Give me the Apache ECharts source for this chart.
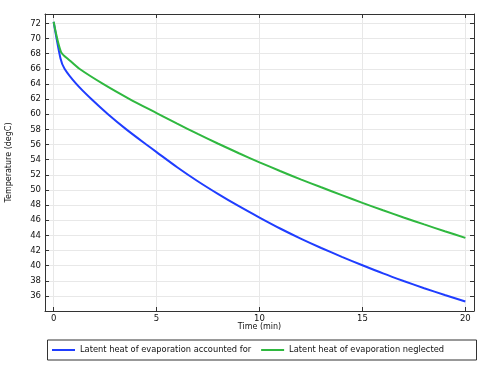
<!DOCTYPE html>
<html><head><meta charset="utf-8">
<script src="https://cdn.jsdelivr.net/npm/echarts@6/dist/echarts.min.js"></script>
<style>html,body{margin:0;padding:0;background:#fff}#c{width:481px;height:368px}</style>
</head><body><div id="c"></div>
<script>
var timeBlue = [0, 0.33, 0.53, 1.1, 1.83, 2.64, 3.53, 4.5, 5, 6, 7, 8, 9, 10, 11, 12, 13, 14, 15, 16, 17, 18, 19, 20];
var tempBlue = [72.2, 67.4, 66.0, 64.0, 62.0, 60.0, 58.0, 56.0, 55.0, 53.0, 51.15, 49.45, 47.85, 46.35, 44.91, 43.58, 42.34, 41.17, 40.06, 38.98, 37.98, 37.03, 36.13, 35.28];
var timeGreen = [0, 0.36, 0.78, 1.25, 2.4, 3.69, 5, 6, 7, 8, 9, 10, 11, 12, 13, 14, 15, 16, 17, 18, 19, 20];
var tempGreen = [72.2, 68.2, 67.1, 66.0, 64.0, 62.0, 60.15, 58.75, 57.4, 56.1, 54.85, 53.65, 52.5, 51.4, 50.35, 49.32, 48.3, 47.32, 46.37, 45.45, 44.55, 43.67];
var xTicks = [0, 5, 10, 15, 20];
var yTicks = [36, 38, 40, 42, 44, 46, 48, 50, 52, 54, 56, 58, 60, 62, 64, 66, 68, 70, 72];
var seriesNames = ['Latent heat of evaporation accounted for', 'Latent heat of evaporation neglected'];

function pairs(xs, ys){ return xs.map(function(x,i){ return [x, ys[i]]; }); }
var FONT = 'DejaVu Sans';
var axisCol = '#333';
var gridCol = '#e8e8e8';
var txtCol = '#111';
var chart = echarts.init(document.getElementById('c'), null, {renderer:'canvas'});
var xBase = {
  type:'value', min:-0.42, max:20.42,
  axisLine:{show:true, onZero:false, lineStyle:{color:axisCol, width:1}},
  axisTick:{show:true, inside:true, length:4, customValues:xTicks, lineStyle:{color:axisCol}},
  splitLine:{show:false}
};
var yBase = {
  type:'value', min:34.02, max:73.23,
  axisLine:{show:true, onZero:false, lineStyle:{color:axisCol, width:1}},
  axisTick:{show:true, inside:true, length:4, customValues:yTicks, lineStyle:{color:axisCol}},
  splitLine:{show:false}
};
chart.setOption({
  animation:false,
  grid:{left:45, right:7, top:14, bottom:57, containLabel:false, outerBoundsMode:'none'},
  xAxis:[
    Object.assign({}, xBase, {
      position:'bottom',
      name:'Time (min)', nameLocation:'middle', nameGap:12, nameMoveOverlap:false,
      nameTextStyle:{fontFamily:FONT, fontSize:8, color:txtCol},
      axisLabel:{show:true, customValues:xTicks, margin:3, fontFamily:FONT, fontSize:8.5, color:txtCol},
      splitLine:{show:true, lineStyle:{color:gridCol, width:1}}
    }),
    Object.assign({}, xBase, {position:'top', axisLabel:{show:false}})
  ],
  yAxis:[
    Object.assign({}, yBase, {
      position:'left',
      name:'Temperature (degC)', nameLocation:'middle', nameGap:32, nameRotate:90, nameMoveOverlap:false,
      nameTextStyle:{fontFamily:FONT, fontSize:8, color:txtCol},
      axisLabel:{show:true, customValues:yTicks, margin:4, fontFamily:FONT, fontSize:8.5, color:txtCol},
      splitLine:{show:true, lineStyle:{color:gridCol, width:1}}
    }),
    Object.assign({}, yBase, {position:'right', axisLabel:{show:false}})
  ],
  legend:{
    left:47, top:341, itemWidth:23, itemHeight:2, itemGap:10,
    icon:'rect',
    textStyle:{fontFamily:FONT, fontSize:8.3, color:txtCol},
    data:seriesNames
  },
  graphic:[{type:'rect', left:45, top:337.5, shape:{width:429, height:20}, style:{fill:'none', stroke:'#333', lineWidth:1}}],
  series:[
    {name:seriesNames[0], type:'line', data:pairs(timeBlue,tempBlue), showSymbol:false, smooth:0.25,
     lineStyle:{color:'#1f3dff', width:2}, itemStyle:{color:'#1f3dff'}},
    {name:seriesNames[1], type:'line', data:pairs(timeGreen,tempGreen), showSymbol:false, smooth:0.25,
     lineStyle:{color:'#2fb83f', width:2}, itemStyle:{color:'#2fb83f'}}
  ]
});
</script></body></html>
